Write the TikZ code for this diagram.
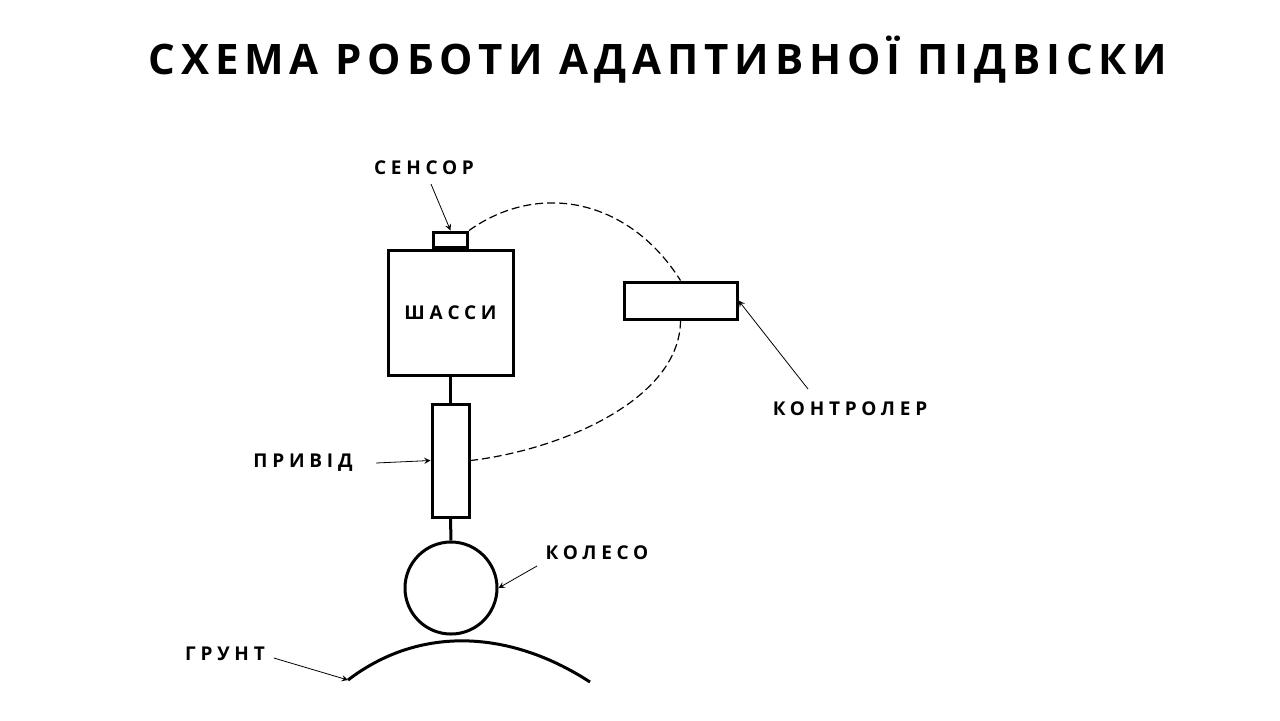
\documentclass[tikz,border=0pt]{standalone}
\usepackage{fontspec}
\setmainfont{Open Sans}
\usetikzlibrary{positioning}
\tikzset{
  part/.style={draw,line width=1.5pt,inner sep=0pt},
  lbl/.style={font=\bfseries\addfontfeature{LetterSpace=25}\fontsize{9.5}{11}\selectfont},
  ptr/.style={->,>=stealth,thin},
  wire/.style={dash pattern=on 4pt off 2pt,line width=0.6pt}
}
\begin{document}
\begin{tikzpicture}[x=0.5pt,y=-0.5pt]
  \useasboundingbox (0,0) rectangle (1280,720);
  \node[font=\bfseries\addfontfeature{LetterSpace=14}\fontsize{21}{24}\selectfont] (title) at (658,60) {СХЕМА РОБОТИ АДАПТИВНОЇ ПІДВІСКИ};
  % parts
  \node[part,minimum width=62.5pt,minimum height=62.5pt] (chassis) at (450.5,312.5) {};
  \node[lbl] at (chassis) {ШАССИ};
  \node[part,minimum width=17pt,minimum height=7.5pt,anchor=south] (sensor) at (chassis.north) {};
  \node[part,minimum width=18.5pt,minimum height=56.5pt] (drive) at (450.5,460.5) {};
  \node[part,circle,minimum size=46pt] (wheel) at (451,588) {};
  \node[part,minimum width=56.5pt,minimum height=18.5pt] (ctrl) at (680.5,300.5) {};
  \draw[line width=1.5pt] (chassis.south) -- (drive.north);
  \draw[line width=1.5pt] (drive.south) -- (wheel.north);
  \coordinate (g1) at (348,680);
  \coordinate (g2) at (590,682);
  \draw[line width=1.5pt] (g1) .. controls (420,625) and (510,630) .. (g2);
  % wires
  \draw[wire] (sensor.north east) .. controls (540,180) and (630,200) .. (ctrl.north);
  \draw[wire] (ctrl.south) .. controls (680,400) and (560,450) .. (drive.east);
  % labels
  \node[lbl] (lsens) at (424,168) {СЕНСОР};
  \draw[ptr] (lsens.south) ++(7,2) -- (sensor.north);
  \node[lbl] (lctrl) at (850,409) {КОНТРОЛЕР};
  \draw[ptr] (808,389) -- (ctrl.east);
  \node[lbl] (ldrive) at (303,463) {ПРИВІД};
  \draw[ptr] (376,463) -- (drive.west);
  \node[lbl] (lwheel) at (597,553) {КОЛЕСО};
  \draw[ptr] (537,566) -- (wheel.east);
  \node[lbl] (lground) at (225,654) {ГРУНТ};
  \draw[ptr] (lground.east) ++(2,4) -- (g1);
\end{tikzpicture}
\end{document}
